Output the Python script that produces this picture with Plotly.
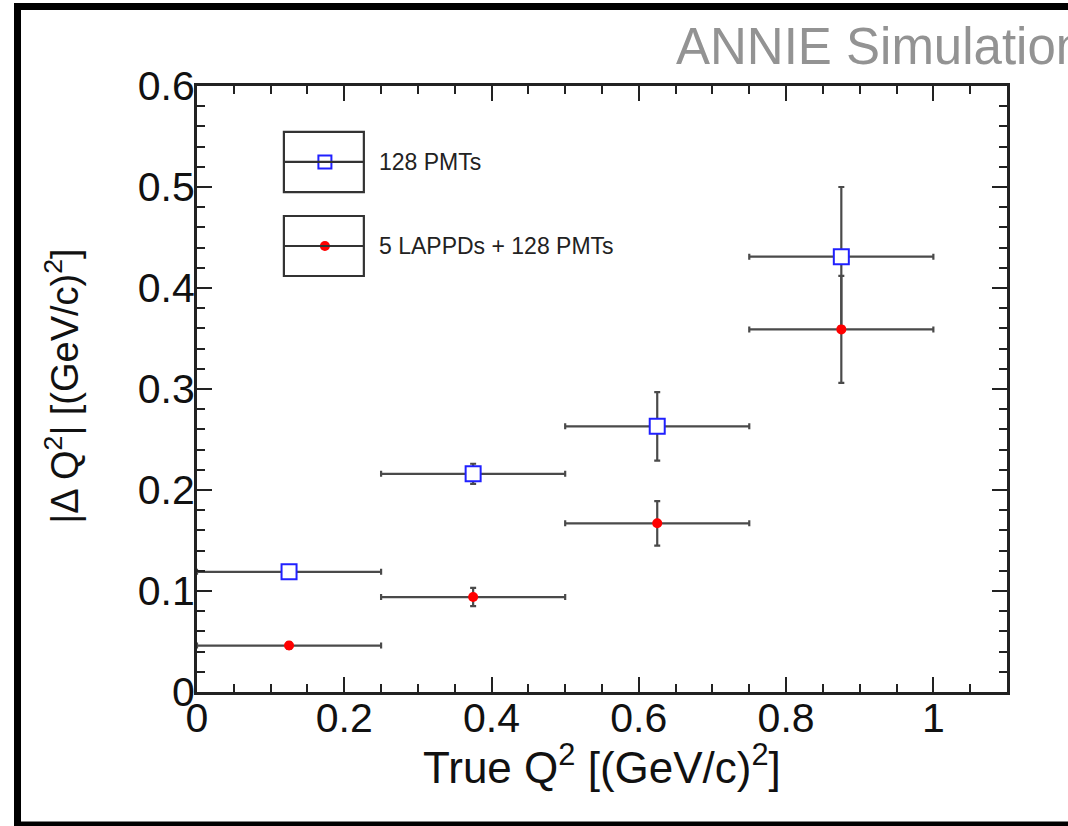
import plotly.graph_objects as go

# ---- data ----
bin_centers = [0.125, 0.375, 0.625, 0.875]
bin_half_width = [0.125, 0.125, 0.125, 0.125]

pmt_only_dq2 = [0.119, 0.216, 0.263, 0.431]
pmt_only_err = [0.003, 0.010, 0.034, 0.069]

lappd_pmt_dq2 = [0.046, 0.094, 0.167, 0.359]
lappd_pmt_err = [0.003, 0.009, 0.022, 0.053]

series_names = ["128 PMTs", "5 LAPPDs + 128 PMTs"]

FONT = "Liberation Sans, Arial, Helvetica, sans-serif"
ERR_COLOR = "#4a4a4a"

fig = go.Figure()

fig.add_trace(go.Scatter(
    x=bin_centers, y=pmt_only_dq2, mode="markers", name=series_names[0],
    marker=dict(symbol="square", size=15, color="white",
                line=dict(color="#2020ff", width=2)),
    error_x=dict(type="data", array=bin_half_width, color=ERR_COLOR, thickness=2.2, width=3),
    error_y=dict(type="data", array=pmt_only_err, color=ERR_COLOR, thickness=2.2, width=3),
    showlegend=False,
))
fig.add_trace(go.Scatter(
    x=bin_centers, y=lappd_pmt_dq2, mode="markers", name=series_names[1],
    marker=dict(symbol="circle", size=10, color="#ff0000", line=dict(width=0)),
    error_x=dict(type="data", array=bin_half_width, color=ERR_COLOR, thickness=2.2, width=3),
    error_y=dict(type="data", array=lappd_pmt_err, color=ERR_COLOR, thickness=2.2, width=3),
    showlegend=False,
))

# ---- ROOT-style legend (boxes with line + marker) ----
leg_x0, leg_x1, leg_xm = 0.118, 0.2266, 0.1737
leg_boxes = [(0.4950, 0.5545, 0.5248), (0.4119, 0.4713, 0.4416)]
for (y0, y1, ym) in leg_boxes:
    fig.add_shape(type="rect", xref="x", yref="y", x0=leg_x0, x1=leg_x1, y0=y0, y1=y1,
                  line=dict(color="#333", width=2.2), fillcolor="rgba(0,0,0,0)")
    fig.add_shape(type="line", xref="x", yref="y", x0=leg_x0, x1=leg_x1, y0=ym, y1=ym,
                  line=dict(color="#333", width=2.2))
fig.add_trace(go.Scatter(
    x=[leg_xm], y=[leg_boxes[0][2]], mode="markers", showlegend=False, hoverinfo="skip",
    marker=dict(symbol="square", size=13, color="white", line=dict(color="#2020ff", width=2)),
))
fig.add_trace(go.Scatter(
    x=[leg_xm], y=[leg_boxes[1][2]], mode="markers", showlegend=False, hoverinfo="skip",
    marker=dict(symbol="circle", size=10, color="#ff0000"),
))
for name, (y0, y1, ym) in zip(series_names, leg_boxes):
    fig.add_annotation(x=0.2445, y=ym, xref="x", yref="y", text=name, showarrow=False,
                       xanchor="left", yanchor="middle",
                       font=dict(family=FONT, size=23, color="#222"))

# ---- title ----
fig.add_annotation(x=0.5889, y=1.0644, xref="paper", yref="paper", text="ANNIE Simulation",
                   showarrow=False, xanchor="left", yanchor="middle",
                   font=dict(family=FONT, size=51, color="#939393"))

# ---- axis titles ----
fig.add_annotation(x=0.5, y=-0.119, xref="paper", yref="paper",
                   text="True Q<sup>2</sup> [(GeV/c)<sup>2</sup>]", showarrow=False,
                   xanchor="center", yanchor="middle",
                   font=dict(family=FONT, size=44, color="#111"))
fig.add_annotation(x=-0.167, y=0.505, xref="paper", yref="paper",
                   text="|Δ Q<sup>2</sup>| [(GeV/c)<sup>2</sup>]", showarrow=False,
                   textangle=-90, xanchor="center", yanchor="middle",
                   font=dict(family=FONT, size=38, color="#111"))

# ---- outer black frame ----
fig.add_shape(type="rect", xref="paper", yref="paper",
              x0=-0.2216, x1=1.10, y0=-0.2195, y1=1.1312,
              line=dict(color="black", width=7), fillcolor="rgba(0,0,0,0)", layer="above")

axis_common = dict(
    showline=True, linewidth=3, linecolor="#222", mirror="allticks",
    ticks="inside", ticklen=15, tickwidth=2, tickcolor="#222",
    showgrid=False, zeroline=False,
    tickfont=dict(family=FONT, size=41, color="#111"),
)

fig.update_layout(
    width=1068, height=826,
    margin=dict(l=197, r=61, t=86, b=134),
    paper_bgcolor="white", plot_bgcolor="white",
    xaxis=dict(range=[0, 1.1], dtick=0.2, tick0=0,
               minor=dict(ticks="inside", dtick=0.05, ticklen=8, tickwidth=2, tickcolor="#222"),
               ticklabelstandoff=-12,
               **axis_common),
    yaxis=dict(range=[0, 0.6], dtick=0.1, tick0=0,
               minor=dict(ticks="inside", dtick=0.02, ticklen=8, tickwidth=2, tickcolor="#222"),
               ticklabelstandoff=-9,
               **axis_common),
    showlegend=False,
)

fig.write_html("out.html")
